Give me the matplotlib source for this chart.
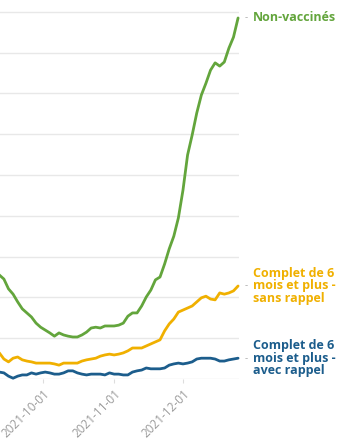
import numpy as np
import pandas as pd
import matplotlib
matplotlib.use("Agg")
import matplotlib.pyplot as plt
import matplotlib.dates as mdates

# one value every two days
dates = pd.date_range("2021-09-10", "2021-12-25", freq="2D")

non_vaccines = [26.7, 25.5, 24.5, 22.1, 20.8, 18.9, 17.2, 16.2, 15.2, 13.7,
                12.7, 12.0, 11.3, 10.5, 11.3, 10.8, 10.5, 10.3, 10.3, 10.8,
                11.5, 12.5, 12.7, 12.5, 13.0, 13.0, 13.0, 13.2, 13.7, 15.4,
                16.2, 16.2, 17.9, 20.1, 21.8, 24.3, 25.0, 28.2, 31.9, 35.0,
                39.5, 46.3, 54.9, 59.8, 65.2, 69.6, 72.5, 75.7, 77.5, 76.7,
                77.7, 81.1, 83.8, 88.5]

sans_rappel = [7.1, 6.4, 4.9, 4.2, 5.1, 5.4, 4.7, 4.4, 4.2, 3.9,
               3.9, 3.9, 3.9, 3.7, 3.4, 3.9, 3.9, 3.9, 3.9, 4.4,
               4.7, 4.9, 5.1, 5.6, 5.9, 6.1, 5.9, 6.1, 6.4, 6.9,
               7.6, 7.6, 7.6, 8.1, 8.6, 9.1, 9.6, 11.8, 13.5, 14.7,
               16.4, 16.9, 17.4, 17.9, 18.9, 19.9, 20.3, 19.6, 19.4, 21.1,
               20.8, 21.1, 21.6, 22.8]

avec_rappel = [2.0, 1.7, 1.5, 0.7, 0.2, 0.7, 1.0, 1.0, 1.5, 1.2,
               1.5, 1.7, 1.5, 1.2, 1.2, 1.5, 2.0, 2.0, 1.5, 1.2,
               1.0, 1.2, 1.2, 1.2, 1.0, 1.5, 1.2, 1.2, 1.0, 1.0,
               1.7, 2.0, 2.2, 2.7, 2.5, 2.5, 2.5, 2.7, 3.4, 3.7,
               3.9, 3.7, 3.9, 4.2, 4.9, 5.1, 5.1, 5.1, 4.9, 4.4,
               4.4, 4.7, 4.9, 5.1]

series = [
    (non_vaccines, "#63a53c", "Non-vaccinés"),
    (sans_rappel, "#f0b000", "Complet de 6\nmois et plus -\nsans rappel"),
    (avec_rappel, "#1c5d8c", "Complet de 6\nmois et plus -\navec rappel"),
]

fig = plt.figure(figsize=(3.52, 4.47), dpi=100)
ax = fig.add_axes([0, 0.1521, 239 / 352, 0.8479])

for vals, col, lab in series:
    ax.plot(dates, vals, color=col, lw=2.0, solid_capstyle="round", clip_on=False)
    # grey dash then the label, centred on the last value
    ax.annotate("-", xy=(dates[-1], vals[-1]), xytext=(5, 0), textcoords="offset points",
                va="center", ha="left", color="#aaaaaa", fontsize=7, family="Open Sans",
                annotation_clip=False)
    ax.annotate(lab, xy=(dates[-1], vals[-1]), xytext=(10.5, 0), textcoords="offset points",
                va="center", ha="left", color=col, fontsize=9, fontweight="bold",
                family="Open Sans", linespacing=0.95, annotation_clip=False)

left = mdates.date2num(pd.Timestamp("2021-10-01")) - 18.7
right = mdates.date2num(pd.Timestamp("2021-10-01")) + 85.4
ax.set_xlim(left, right)
ax.set_ylim(0, 92.9)

ax.set_yticks(np.arange(0, 91, 10))
ax.yaxis.set_tick_params(length=0, labelleft=False)
ax.grid(axis="y", color="#e8e8e8", lw=1.0)
ax.set_axisbelow(True)

ax.set_xticks(pd.to_datetime(["2021-10-01", "2021-11-01", "2021-12-01"]))
ax.xaxis.set_major_formatter(mdates.DateFormatter("%Y-%m-%d"))
ax.tick_params(axis="x", length=3, width=0.8, color="#dddddd", labelcolor="#9a9a9a",
               labelsize=8.5, pad=3)
for t in ax.get_xticklabels():
    t.set_rotation(45)
    t.set_ha("right")
    t.set_rotation_mode("anchor")
    t.set_family("Open Sans")

for s in ax.spines.values():
    s.set_visible(False)

fig.savefig("out.png", dpi=100)
